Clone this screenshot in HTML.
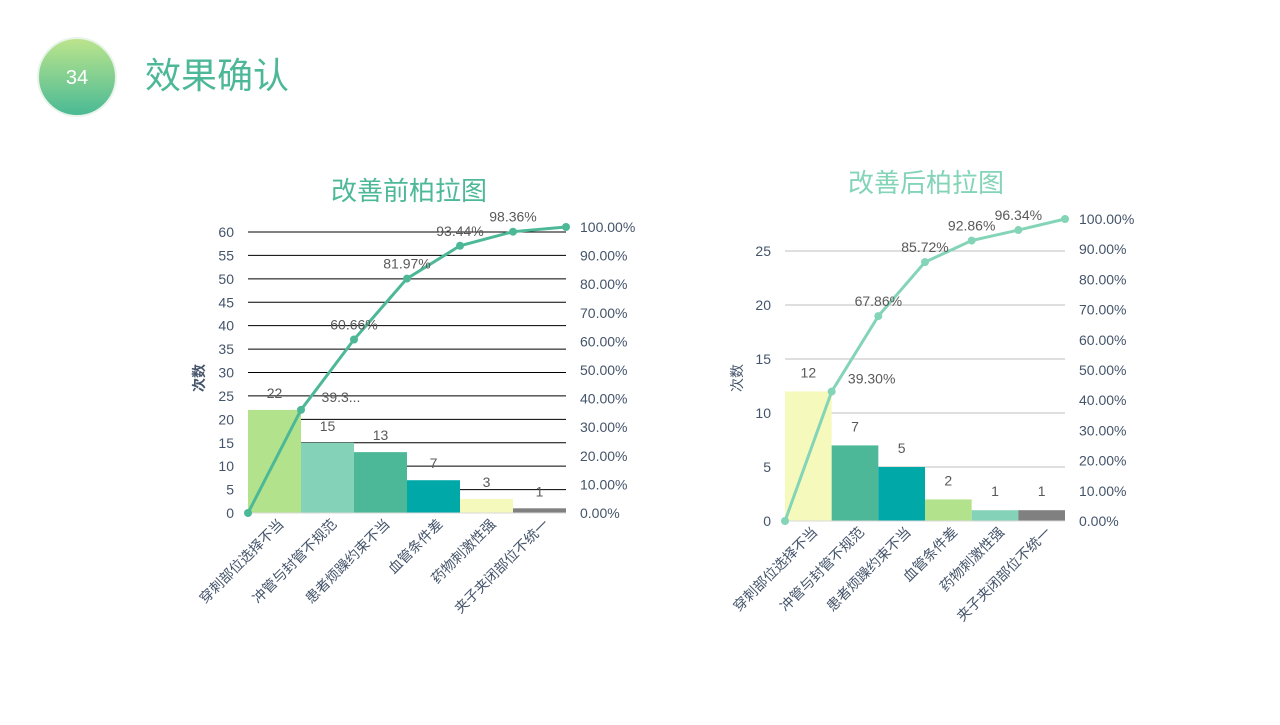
<!DOCTYPE html>
<html><head><meta charset="utf-8">
<style>
body{margin:0;width:1280px;height:720px;overflow:hidden;background:#fff;font-family:"Liberation Sans","Noto Sans CJK SC",sans-serif;}
svg text{font-family:"Liberation Sans","Noto Sans CJK SC",sans-serif;}
</style></head>
<body>
<svg id="s" width="1280" height="720" viewBox="0 0 1280 720">
<defs>
<linearGradient id="g" x1="0" y1="0" x2="0" y2="1"><stop offset="0" stop-color="#bde58c"/><stop offset="1" stop-color="#48b995"/></linearGradient>
</defs>
<circle cx="77" cy="77" r="39" fill="url(#g)" stroke="#e8f3ea" stroke-width="2"/>
<text x="77" y="84" font-size="20" fill="#fff" text-anchor="middle">34</text>
<text x="145" y="88" font-size="36" fill="#4db898">效果确认</text>
<text x="409" y="200" font-size="26" fill="#4db898" text-anchor="middle">改善前柏拉图</text>
<text x="926" y="192" font-size="26" fill="#84d4b8" text-anchor="middle">改善后柏拉图</text>
<g id="c1"></g>
<g id="c2"></g>
</svg>
<script>
const categories=["穿刺部位选择不当","冲管与封管不规范","患者烦躁约束不当","血管条件差","药物刺激性强","夹子夹闭部位不统一"];
const beforeCounts=[22,15,13,7,3,1];
const beforeCum=[0,36.07,60.66,81.97,93.44,98.36,100];
const beforeCumLabels=["","39.3...","60.66%","81.97%","93.44%","98.36%",""];
const beforeYTicks=[0,5,10,15,20,25,30,35,40,45,50,55,60];
const afterCounts=[12,7,5,2,1,1];
const afterCum=[0,42.86,67.86,85.72,92.86,96.34,100];
const afterCumLabels=["","39.30%","67.86%","85.72%","92.86%","96.34%",""];
const afterYTicks=[0,5,10,15,20,25];
const pctTicks=[0,10,20,30,40,50,60,70,80,90,100];
const NS="http://www.w3.org/2000/svg";
function mk(p,t,a){const e=document.createElementNS(NS,t);for(const k in a)e.setAttribute(k,a[k]);p.appendChild(e);return e;}
function draw(g,o){
  const n=categories.length,bw=(o.x1-o.x0)/n;
  const yc=v=>o.y0-(v/o.ymax)*(o.y0-o.ytop);
  const yp=v=>o.y0-(v/100)*(o.y0-o.ptop);
  const xs=i=>o.x0+i*bw;
  o.yTicks.forEach(t=>{
    if(t>0){const l=mk(g,'line',{x1:o.x0,x2:o.x1,y1:yc(t),y2:yc(t),stroke:o.grid,'stroke-width':1});
    }
    const tx=mk(g,'text',{x:o.x0-14,y:yc(t)+5,'font-size':14,fill:'#44546a','text-anchor':'end'});tx.textContent=t;
    
  });
  pctTicks.forEach(t=>{
    const tx=mk(g,'text',{x:o.x1+14,y:yp(t)+5,'font-size':14,fill:'#44546a'});tx.textContent=t.toFixed(2)+'%';
    
  });
  o.counts.forEach((v,i)=>{
    const r=mk(g,'rect',{x:xs(i),y:yc(v),width:bw,height:o.y0-yc(v),fill:o.colors[i]});
    
    const tx=mk(g,'text',{x:xs(i)+bw/2,y:yc(v)-o.lblOff,'font-size':14,fill:'#595959','text-anchor':'middle'});tx.textContent=v;
    
    const cx=xs(i)+bw/2+10,cy=o.y0+12;
    const cl=mk(g,'text',{x:cx,y:cy,'font-size':14,fill:'#44546a','text-anchor':'end',transform:`rotate(-45 ${cx} ${cy})`});cl.textContent=categories[i];
    
  });
  const ax=mk(g,'line',{x1:o.x0,x2:o.x1,y1:o.y0,y2:o.y0,stroke:'#d9d9d9','stroke-width':1});
  
  const pts=o.cum.map((v,i)=>xs(i)+','+yp(v)).join(' ');
  const pl=mk(g,'polyline',{points:pts,fill:'none',stroke:o.line,'stroke-width':3});
  
  o.cum.forEach((v,i)=>{
    const c=mk(g,'circle',{cx:xs(i),cy:yp(v),r:4,fill:o.line});
    
    if(o.cumLabels[i]){
      const off=i==1?[40,-8]:[0,-10];
      const tx=mk(g,'text',{x:xs(i)+off[0],y:yp(v)+off[1],'font-size':14,fill:'#595959','text-anchor':'middle'});tx.textContent=o.cumLabels[i];
      
    }
  });
  const yt=mk(g,'text',{x:o.tx,y:378,'font-size':14,fill:'#44546a','font-weight':o.bold?'bold':'normal','text-anchor':'middle',transform:`rotate(-90 ${o.tx} 378)`});yt.textContent='次数';
  
}
draw(document.getElementById('c1'),{x0:248,x1:566,y0:513,ytop:232,ymax:60,ptop:227,counts:beforeCounts,cum:beforeCum,cumLabels:beforeCumLabels,yTicks:beforeYTicks,
  colors:['#b3e28c','#84d2b8','#4db898','#00a8a8','#f6f9bc','#808080'],line:'#4db898',grid:'#000',lblOff:12,tx:204,bold:true});
draw(document.getElementById('c2'),{x0:785,x1:1065,y0:521,ytop:251,ymax:25,ptop:219,counts:afterCounts,cum:afterCum,cumLabels:afterCumLabels,yTicks:afterYTicks,
  colors:['#f6f9bc','#4db898','#00a8a8','#b3e28c','#84d2b8','#808080'],line:'#84d4b8',grid:'#bfbfbf',lblOff:14,tx:742,bold:false});
</script>
</body></html>
